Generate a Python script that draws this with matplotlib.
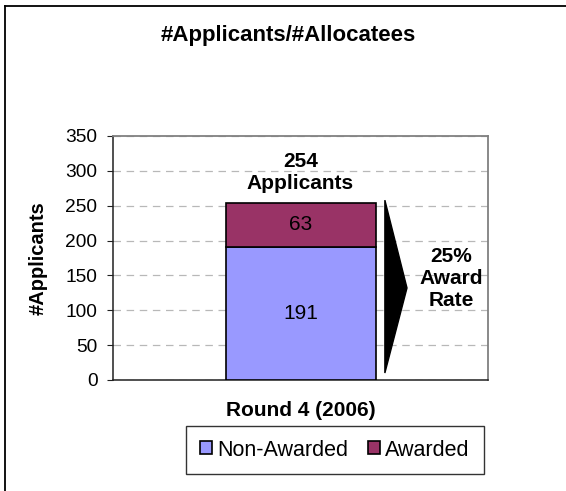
import matplotlib
matplotlib.use("Agg")
import matplotlib.pyplot as plt
import matplotlib.transforms as mtransforms
from matplotlib.patches import Polygon

categories = ["Round 4 (2006)"]
non_awarded = [191]
awarded = [63]
series_names = ["Non-Awarded", "Awarded"]
yticks = [0, 50, 100, 150, 200, 250, 300, 350]
title = "#Applicants/#Allocatees"
ylabel = "#Applicants"

plt.rcParams['font.family'] = ['Liberation Sans', 'DejaVu Sans']

W, H = 566, 491
fig = plt.figure(figsize=(W / 100, H / 100), dpi=100)

# outer chart border (left and top visible)
fig.add_artist(plt.Line2D([5 / W, 5 / W], [0, 1 - 6 / H], color='black', lw=1.3, transform=fig.transFigure))
fig.add_artist(plt.Line2D([5 / W, 1], [1 - 6 / H, 1 - 6 / H], color='black', lw=1.3, transform=fig.transFigure))

left, right, top, bottom = 113, 488, 136, 380
ax = fig.add_axes([left / W, 1 - bottom / H, (right - left) / W, (bottom - top) / H])

x = list(range(len(categories)))
width = 0.4
c1, c2 = '#9999FF', '#993366'
b1 = ax.bar(x, non_awarded, width, color=c1, edgecolor='black', lw=1.2, label=series_names[0], zorder=3)
b2 = ax.bar(x, awarded, width, bottom=non_awarded, color=c2, edgecolor='black', lw=1.2, label=series_names[1], zorder=3)

ax.set_xlim(-0.5, 0.5)
ax.set_ylim(0, 350)
ax.set_yticks(yticks)
ax.set_xticks([])
ax.yaxis.grid(True, linestyle=(0, (6, 4.5)), color='#b8b8b8', lw=0.9, zorder=0)
for s in ['top', 'right']:
    ax.spines[s].set_color('#808080')
    ax.spines[s].set_linewidth(1.3)
for s in ['left', 'bottom']:
    ax.spines[s].set_color('#202020')
    ax.spines[s].set_linewidth(1.1)
ax.tick_params(axis='y', labelsize=13.8, length=4.2, color='#202020', pad=7)

blend = mtransforms.blended_transform_factory(ax.transAxes, ax.transData)
for i in x:
    ax.text(i, non_awarded[i] / 2, str(non_awarded[i]), ha='center', va='center', fontsize=15, zorder=4)
    ax.text(i, non_awarded[i] + awarded[i] / 2, str(awarded[i]), ha='center', va='center', fontsize=15, zorder=4)
    total = non_awarded[i] + awarded[i]
    ax.annotate(f"{total}\nApplicants", xy=(i, total), xytext=(0, 7), textcoords='offset points',
                ha='center', va='bottom', fontsize=15, fontweight='bold', linespacing=1.2)
    # arrow indicating award rate
    tri = Polygon([[0.725, total + 4], [0.784, total / 2 + 5], [0.725, 10]], closed=True,
                  facecolor='black', edgecolor='black', transform=blend, zorder=4)
    ax.add_patch(tri)
    rate = round(100 * awarded[i] / total)
    ax.text(0.902, total / 2 + 19, f"{rate}%\nAward\nRate", transform=blend,
            ha='center', va='center', fontsize=15, fontweight='bold', linespacing=1.2)

fig.text(288 / W, 1 - 35 / H, title, ha='center', va='center', fontsize=16, fontweight='bold')
fig.text(38 / W, 1 - 258 / H, ylabel, ha='center', va='center', rotation=90, fontsize=14.5, fontweight='bold')
fig.text(301 / W, 1 - 410 / H, categories[0], ha='center', va='center', fontsize=15, fontweight='bold')

leg = fig.legend(handles=[b1, b2], labels=series_names, loc='center',
                 bbox_to_anchor=(335 / W, 1 - 450 / H), ncol=2, fontsize=15.5, frameon=True,
                 fancybox=False, edgecolor='black', handlelength=0.55, handleheight=0.55,
                 handletextpad=0.25, columnspacing=0.9, borderpad=0.65, borderaxespad=0)
leg.get_frame().set_linewidth(1.0)

fig.savefig('out.png', dpi=100, facecolor='white')
